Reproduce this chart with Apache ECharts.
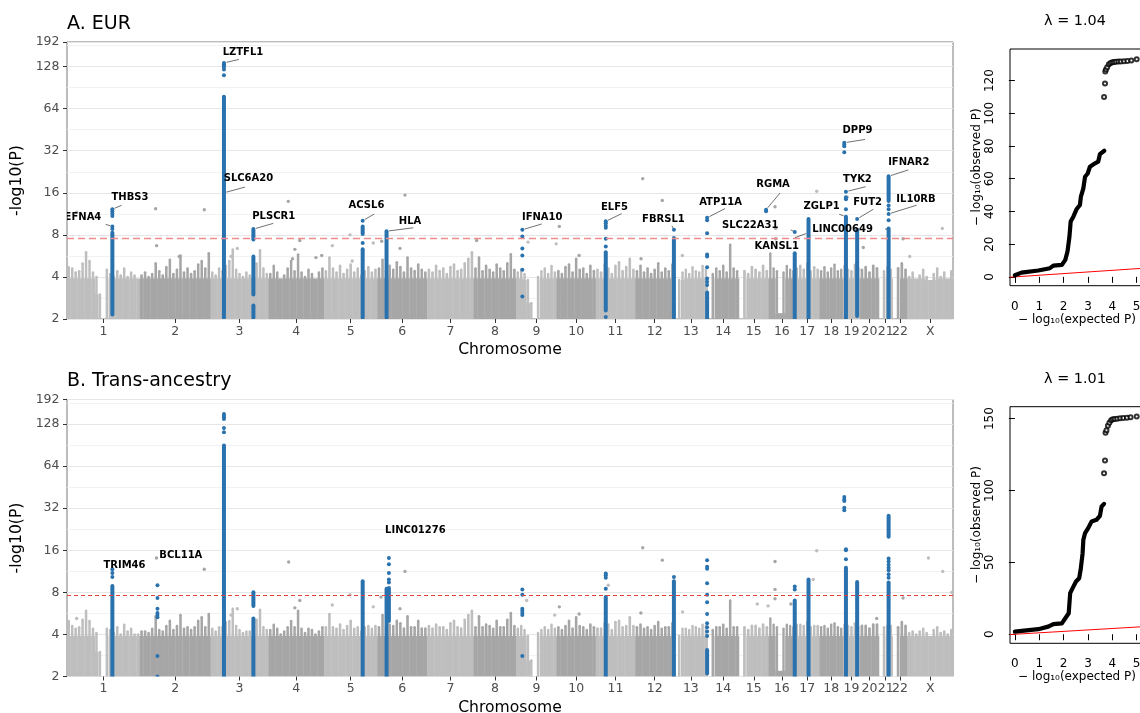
<!DOCTYPE html>
<html><head><meta charset="utf-8">
<script src="https://cdn.jsdelivr.net/npm/echarts@6/dist/echarts.min.js"></script>
<style>html,body{margin:0;padding:0;background:#fff}#c{width:1140px;height:713px}</style>
</head><body><div id="c"></div>
<script>
// ---------------- data ----------------
const chromNames = ['1','2','3','4','5','6','7','8','9','10','11','12','13','14','15','16','17','18','19','20','21','22','X'];
const chromLenMb = [248.96,242.19,198.30,190.21,181.54,170.81,159.35,145.14,138.39,133.80,135.09,133.28,114.36,107.04,101.99,90.34,83.26,80.37,58.62,64.44,46.71,50.82,156.04];
const yRange = [2, 192];
const gwThreshold = 7.6;

// background skyline (max -log10P per window, windows evenly spread along each chromosome)
const eurSkyline = [
 [4.7,4.6,4.3,4.4,5.0,6.0,5.2,4.3,4.0,3.0,2.0,4.5,4.2,4.0,4.4,4.1,4.6,4.0,4.3,4.1,3.9],
 [4.1,4.3,4.0,4.2,5.0,4.4,4.1,4.7,5.3,4.2,4.5,5.7,4.3,4.6,4.2,4.4,4.9,5.2,4.6,5.9],
 [4.3,4.1,4.6,4.4,4.8,5.2,6.3,4.5,4.2,4.0,4.3,4.1,4.4,5.0,6.2,4.6,4.2],
 [4.2,4.8,4.3,3.9,4.1,4.6,5.2,4.4,5.8,4.3,4.0,4.5,4.2,3.9,4.3,4.6],
 [4.4,5.5,4.6,4.3,4.8,4.2,4.5,4.9,4.3,4.6,4.1,4.4,4.7,4.3,4.5],
 [4.6,5.3,4.4,4.8,4.5,5.1,4.7,4.3,5.5,4.6,4.4,4.9,4.5,4.3],
 [4.5,4.3,4.8,4.4,4.6,4.2,4.7,4.9,4.4,4.5,5.0,5.4,6.0],
 [4.6,5.5,4.4,4.8,4.5,4.3,4.9,4.6,4.4,5.0,5.8,4.5],
 [4.3,4.5,4.2,3.8,2.6,2.0,4.0,4.4,4.6,4.2,4.8,4.3],
 [4.4,4.2,4.7,4.9,4.3,5.4,4.5,4.6,4.2,4.8,4.4],
 [4.5,4.3,4.9,4.6,4.2,4.8,5.1,4.4,4.7,5.4,4.5],
 [4.4,4.8,4.3,4.6,4.2,4.5,5.0,4.3,4.6,4.4,4.9],
 [2.0,3.8,4.3,4.5,4.2,4.7,4.4,4.3,4.8,4.5],
 [2.0,4.2,4.6,4.4,4.8,4.3,6.8,4.6,4.4],
 [2.0,4.4,4.2,4.7,4.5,4.3,4.8,4.4],
 [5.9,4.6,4.4,2.2,4.3,4.8,4.5,4.4],
 [4.6,4.8,4.5,5.0,4.4,4.7,4.5],
 [4.4,4.7,4.3,4.6,4.9,4.4,4.5],
 [4.8,4.5,4.4,4.9,4.6],
 [4.5,4.7,4.3,4.8,4.6],
 [2.0,4.4,4.7,4.5],
 [2.0,4.6,5.0,4.5],
 [4.0,4.3,3.9,4.1,4.5,4.0,3.8,4.2,4.6,4.0,4.3,3.9,4.4]
];
const transSkyline = [
 [5.0,4.6,4.4,4.5,5.1,5.9,5.0,4.4,4.1,3.0,2.0,4.4,4.3,4.1,4.5,4.0,4.7,4.2,4.4,4.0,4.0],
 [4.2,4.2,4.1,4.4,5.4,4.3,4.2,4.6,5.0,4.3,4.6,5.5,4.4,4.5,4.3,4.5,5.0,5.3,4.5,5.6],
 [4.4,4.2,4.5,4.5,4.9,5.0,6.1,4.6,4.3,4.1,4.2,4.2,4.5,5.1,6.0,4.5,4.3],
 [4.3,4.7,4.4,4.0,4.2,4.5,5.0,4.5,5.9,4.4,4.1,4.4,4.3,4.0,4.2,4.5],
 [4.5,5.6,4.5,4.4,4.7,4.3,4.6,5.0,4.4,4.5,4.2,4.5,4.6,4.4,4.6],
 [4.5,5.5,4.5,4.7,4.6,5.0,4.8,4.4,5.4,4.5,4.5,5.0,4.4,4.4],
 [4.6,4.4,4.7,4.5,4.5,4.3,4.8,5.0,4.5,4.4,5.1,5.5,5.9],
 [4.5,5.4,4.5,4.7,4.6,4.4,5.0,4.5,4.5,5.1,5.7,4.6],
 [4.4,4.6,4.3,3.9,2.6,2.0,4.1,4.3,4.5,4.3,4.7,4.4],
 [4.5,4.3,4.6,5.0,4.4,5.3,4.6,4.5,4.3,4.7,4.5],
 [4.4,4.4,4.8,4.7,4.3,4.9,5.0,4.5,4.6,5.3,4.6],
 [4.5,4.7,4.4,4.5,4.3,4.6,4.9,4.4,4.5,4.5,4.8],
 [2.0,3.9,4.4,4.4,4.3,4.6,4.5,4.4,4.7,4.6],
 [2.0,4.3,4.5,4.5,4.7,4.4,7.0,4.5,4.5],
 [2.0,4.5,4.3,4.6,4.6,4.4,4.7,4.5],
 [5.2,4.7,4.5,2.2,4.4,4.7,4.6,4.5],
 [4.7,4.7,4.6,4.9,4.5,4.6,4.6],
 [4.5,4.6,4.4,4.7,4.8,4.5,4.4],
 [4.7,4.6,4.5,4.8,4.5],
 [4.6,4.6,4.4,4.7,4.7],
 [2.0,4.5,4.6,4.6],
 [2.0,4.5,4.9,4.6],
 [4.1,4.2,4.0,4.2,4.4,4.1,3.9,4.3,4.5,4.1,4.2,4.0,4.3]
];

// isolated grey points [chrom, posMb, -log10P]
const eurGreyPts = [
 ['1',33,11.6],['2',54.3,12.3],['2',57.7,6.7],['2',135,5.6],['2',220.7,12.1],['3',70,5.6],['3',91.5,6.4],
 ['4',67.6,13.9],['4',82,5.4],['4',90,6.3],['4',107,7.3],['4',162,5.5],['4',182,5.7],['5',28,6.7],['5',88.5,8.0],
 ['5',96,5.2],['5',168,7.0],['6',15.4,7.2],['6',78,6.4],['6',95,15.4],['8',10,7.3],['9',40.7,7.1],['9',137,6.9],
 ['10',9.3,9.2],['10',77,5.7],['12',20,5.4],['12',25.8,20.2],['12',92.8,14.1],['13',28,5.7],['16',21.7,12.7],
 ['16',24,8.9],['16',24,7.5],['17',74,16.4],['19',15,14.9],['20',11,6.5],['22',36,7.5],['X',8,5.6],['X',119.5,8.9]
];
const transGreyPts = [
 ['1',33,5.2],['2',57,14.1],['2',220.7,11.7],['3',70,5.5],['3',91.5,6.1],['4',68.9,13.2],['4',90,6.2],['4',107,7.0],
 ['5',28,6.5],['5',88.5,7.7],['5',168,6.3],['6',13,7.4],['6',78,6.1],['6',95,11.3],['9',36,7.0],['9',132,5.5],
 ['10',9.3,6.3],['10',77,5.6],['11',43,9.0],['12',19.5,5.7],['12',25.8,16.7],['12',92.8,13.6],['13',29,5.8],
 ['15',63,6.6],['15',100,6.4],['16',21.7,13.3],['16',21.7,8.4],['16',21.7,7.2],['16',76,6.6],['17',62,9.9],
 ['17',74,15.9],['20',57,5.2],['22',36,7.3],['X',72,14.1],['X',121,11.3],['X',152,8.0]
];

// highlighted loci: dense runs [chrom, posMb, low, high] and single points [chrom, posMb, value]
const eurHitRuns = [
 ['1',155.2,2.15,8.3],['3',45.8,2.05,78],['3',146.5,7.4,8.6],['3',146.5,3.0,5.6],['3',146.5,2.05,2.5],
 ['5',131.9,2.05,6.3],['5',131.9,8.1,9.2],['6',32.0,2.05,8.5],['11',34.5,2.3,6.0],['12',132.5,2.05,7.6],
 ['13',112.8,2.0,3.1],['16',89.2,2.0,5.9],['17',46.0,2.0,10.4],['19',10.4,2.0,10.8],['19',48.7,2.1,8.7],
 ['21',33.3,14,21],['21',33.3,2.0,8.9]
];
const eurHitPts = [
 ['1',155.2,12.2],['1',155.2,11.8],['1',155.2,11.4],['1',155.2,10.9],['1',155.2,9.2],['1',155.2,8.8],
 ['3',45.8,136],['3',45.8,133],['3',45.8,130],['3',45.8,127],['3',45.8,122],['3',45.8,111],['3',146.5,8.8],
 ['5',131.9,10.1],['5',131.9,7.0],
 ['9',21.2,8.7],['9',21.2,7.8],['9',21.2,6.4],['9',21.2,5.7],['9',21.2,4.5],['9',21.2,2.9],
 ['11',34.5,10.0],['11',34.5,9.7],['11',34.5,9.3],['11',34.5,9.0],['11',34.5,7.5],['11',34.5,6.6],['11',34.5,2.07],
 ['12',132.5,8.7],
 ['13',112.8,10.6],['13',112.8,10.2],['13',112.8,8.2],['13',112.8,5.8],['13',112.8,5.6],['13',112.8,4.7],['13',112.8,3.9],['13',112.8,3.7],['13',112.8,3.5],
 ['15',93.0,12.1],['15',93.0,11.8],['16',89.2,8.4],
 ['19',4.7,36.5],['19',4.7,35.5],['19',4.7,34.5],['19',4.7,31.2],
 ['19',10.4,16.3],['19',10.4,14.9],['19',10.4,14.4],['19',10.4,12.2],['19',48.7,10.4],
 ['21',33.3,13.0],['21',33.3,12.2],['21',33.3,11.3],['21',33.3,10.2]
];
const transHitRuns = [
 ['1',155.2,2.0,8.9],['3',45.8,2.0,90],['3',146.5,6.4,8.0],['3',146.5,2.0,5.2],['5',131.9,2.0,9.6],
 ['6',32.0,2.0,8.5],['6',40.0,5.0,8.6],['11',34.5,2.0,7.4],['12',132.5,2.0,9.6],['13',112.8,2.1,3.1],
 ['16',89.2,2.0,7.0],['17',46.0,2.0,9.9],['19',10.4,2.0,12.0],['19',48.7,2.0,9.5],['21',33.3,20,28.3],['21',33.3,2.0,9.4]
];
const transHitPts = [
 ['1',155.2,11.7],['1',155.2,11.0],['1',155.2,10.3],
 ['2',60.5,9.0],['2',60.5,7.3],['2',60.5,6.1],['2',60.5,5.7],['2',60.5,5.5],['2',60.5,5.3],['2',60.5,2.8],['2',60.5,2.0],
 ['3',45.8,151],['3',45.8,147],['3',45.8,143],['3',45.8,139],['3',45.8,120],['3',45.8,112],
 ['6',40.0,14.1],['6',40.0,12.7],['6',40.0,11.0],['6',40.0,9.9],['6',40.0,9.4],
 ['9',21.2,8.4],['9',21.2,7.7],['9',21.2,6.1],['9',21.2,5.9],['9',21.2,5.7],['9',21.2,5.5],['9',21.2,2.8],
 ['11',34.5,10.9],['11',34.5,10.6],['11',34.5,10.2],['11',34.5,8.5],['12',132.5,10.3],
 ['13',112.8,13.6],['13',112.8,12.2],['13',112.8,11.8],['13',112.8,9.3],['13',112.8,7.7],['13',112.8,6.8],['13',112.8,5.6],['13',112.8,4.8],['13',112.8,4.5],['13',112.8,4.2],['13',112.8,3.9],
 ['16',89.2,8.8],['16',89.2,8.4],
 ['19',4.7,38.5],['19',4.7,37.0],['19',4.7,36.0],['19',4.7,32.2],['19',4.7,31.0],
 ['19',10.4,16.3],['19',10.4,16.0],['19',10.4,13.8],
 ['21',33.3,14.0],['21',33.3,13.3],['21',33.3,12.6],['21',33.3,12.0],['21',33.3,11.5],['21',33.3,10.8],['21',33.3,10.2]
];

// gene labels [gene, chrom, posMb, -log10P of labelled point]
const eurGeneLabels = [
 ['LZTFL1','3',45.8,136],['SLC6A20','3',45.8,16],['THBS3','1',155.2,12.2],['EFNA4','1',155.2,9.2],
 ['PLSCR1','3',146.5,8.8],['ACSL6','5',131.9,10.1],['HLA','6',32.0,8.5],['IFNA10','9',21.2,8.7],
 ['ELF5','11',34.5,10.0],['FBRSL1','12',132.5,8.7],['ATP11A','13',112.8,10.6],['RGMA','15',93.0,12.1],
 ['SLC22A31','16',89.2,8.4],['KANSL1','17',46.0,8.3],['DPP9','19',4.7,36.5],['TYK2','19',10.4,16.3],
 ['ZGLP1','19',10.4,10.8],['FUT2','19',48.7,10.4],['IFNAR2','21',33.3,21.0],['IL10RB','21',33.3,11.3],
 ['LINC00649','21',33.3,8.8]
];
const transGeneLabels = [
 ['TRIM46','1',155.2,11.7],['BCL11A','2',57,14.1],['LINC01276','6',40.0,14.1]
];

// QQ plots: dense part of the curve and sparse top points
const eurQQCurveExp = [0,0.27,0.96,1.44,1.58,1.93,2.07,2.16,2.24,2.29,2.40,2.53,2.67,2.71,2.81,2.88,2.99,3.08,3.29,3.42,3.49,3.67];
const eurQQCurveObs = [1.0,2.6,3.9,5.3,6.9,7.3,10.4,15.5,24.6,33.8,36.8,41.3,43.9,49.0,54.1,61.2,63.2,67.3,69.4,70.4,75.0,77.1];
const eurQQTopExp = [3.66,3.70,3.71,3.74,3.79,3.86,3.93,4.00,4.07,4.15,4.25,4.35,4.48,4.62,4.78,5.00];
const eurQQTopObs = [110,118.2,125.5,126.8,128.2,130.0,130.8,131.2,131.4,131.5,131.6,131.7,131.8,131.9,132.2,133.0];
const transQQCurveExp = [0,0.96,1.37,1.58,1.93,2.07,2.21,2.27,2.37,2.51,2.64,2.70,2.78,2.81,2.88,3.01,3.15,3.35,3.49,3.56,3.66];
const transQQCurveObs = [1.8,3.5,5.3,7.1,7.6,11.1,14.6,28.6,32.1,36.7,39.0,44.9,56.4,65.7,70.3,73.8,78.5,79.6,82.4,88.9,90.7];
const transQQTopExp = [3.66,3.70,3.72,3.76,3.82,3.88,3.95,4.02,4.10,4.20,4.32,4.45,4.60,4.75,5.00];
const transQQTopObs = [112,120.8,140.2,142,145,147.2,148.8,149.5,149.8,150,150.2,150.4,150.6,150.9,151.4];
const qqRefRange = [-0.2, 5.3];
const qqXTicks = [0,1,2,3,4,5];
const eurQQYTicks = [0,20,40,60,80,100,120];
const transQQYTicks = [0,50,100,150];
const eurLambda = '1.04', transLambda = '1.01';

// ---------------- layout / style (not data) ----------------
const eurLabelLayout = {
 LZTFL1:[19,-11,15,-3.5], SLC6A20:[24.5,-14,21,-5.7], THBS3:[17.6,-12.3,9.3,-4], EFNA4:[-29.4,-9,-6.7,-2],
 PLSCR1:[20.3,-12.7,19.9,-5.7], ACSL6:[3.8,-15.7,11.6,-6.7], HLA:[23.5,-10,26.8,-3.4], IFNA10:[19.9,-12.6,19.4,-5.8],
 ELF5:[8.7,-14,15.9,-7.7], FBRSL1:[-10.5,-10.7,-2,-4], ATP11A:[13.4,-15.8,17.9,-9.2], RGMA:[7,-25,14,-16.7],
 SLC22A31:[-44.5,-7,-4,-2], KANSL1:[-31.8,13.3,-13.5,5], DPP9:[13.2,-12.6,20.7,-3.3], TYK2:[11.5,-12.7,19.7,-5],
 ZGLP1:[-24.3,-10,-6.7,-2.4], FUT2:[10.4,-16.4,16.2,-9.7], IFNAR2:[20.2,-13.4,19.7,-6.4], IL10RB:[27.4,-15,28,-8.7],
 LINC00649:[-46,0.4,-3.6,0]
};
const transLabelLayout = { TRIM46:[12.1,-4.3,null,null], BCL11A:[24.4,-2.7,null,null], LINC01276:[26.5,-27.7,null,null] };

const GREY_LIGHT = '#bebebe', GREY_DARK = '#a6a6a6', HIT_BLUE = '#2a72ae';
const FONT = 'DejaVu Sans';
const L2 = Math.log2;

const chromStart = [];
let acc = 0;
chromLenMb.forEach(l => { chromStart.push(acc); acc += l; });
const genomeLen = acc;
const chromCenter = chromStart.map((s, i) => s + chromLenMb[i] / 2);
const cumPos = (chr, pos) => chromStart[chromNames.indexOf(chr)] + pos;
const shadeOf = chr => chromNames.indexOf(chr) % 2;
const LOG_CAP = L2(3.9);

function skyRender(params, api) {
  const x0 = api.value(0), x1 = api.value(1), yv = api.value(2), shade = api.value(3), fl = api.value(4);
  const base = api.coord([x0, 1]);
  const right = api.coord([x1, 1])[0];
  const w = right - base[0];
  const topY = api.coord([x0, yv])[1];
  const floorY = api.coord([x0, fl])[1];
  const fill = shade ? GREY_DARK : GREY_LIGHT;
  const ch = [];
  if (fl > 1.001) ch.push({type:'rect', shape:{x:base[0], y:floorY, width:w+0.4, height:base[1]-floorY}, style:{fill}});
  if (yv > fl + 0.001) {
    const sw = Math.max(1.8, w * 0.72), cx = base[0] + w / 2;
    ch.push({type:'rect', shape:{x:cx-sw/2, y:topY, width:sw, height:floorY-topY+0.5}, style:{fill}});
    ch.push({type:'circle', shape:{cx, cy:topY, r:sw/2}, style:{fill}});
  }
  return {type:'group', children:ch};
}
function greyRender(params, api) {
  const p = api.coord([api.value(0), api.value(1)]);
  return {type:'circle', shape:{cx:p[0], cy:p[1], r:1.7}, style:{fill: api.value(2) ? GREY_DARK : GREY_LIGHT}};
}
function runRender(params, api) {
  const a = api.coord([api.value(0), api.value(1)]);
  const b = api.coord([api.value(0), api.value(2)]);
  return {type:'rect', shape:{x:a[0]-2, y:b[1]-2, width:4, height:a[1]-b[1]+4, r:2}, style:{fill:HIT_BLUE}};
}
function hitPtRender(params, api) {
  const p = api.coord([api.value(0), api.value(1)]);
  return {type:'circle', shape:{cx:p[0], cy:p[1], r:2}, style:{fill:HIT_BLUE}};
}
function makeLabelRender(lbls, layout) {
  return function (params, api) {
    const i = api.value(2);
    const p = api.coord([api.value(0), api.value(1)]);
    const L = layout[lbls[i][0]];
    const ch = [{type:'text', x:p[0]+L[0], y:p[1]+L[1],
      style:{text:lbls[i][0], fontSize:10, fontWeight:'bold', fontFamily:FONT, fill:'#000',
             align:'center', verticalAlign:'middle', textAlign:'center', textVerticalAlign:'middle'}}];
    if (L[2] != null) {
      const dx = L[2], dy = L[3], d = Math.hypot(dx, dy) || 1;
      const s = Math.min(2.5, d * 0.4);
      ch.push({type:'line', shape:{x1:p[0]+dx/d*s, y1:p[1]+dy/d*s, x2:p[0]+dx, y2:p[1]+dy},
        style:{stroke:'#333', lineWidth:0.7}});
    }
    return {type:'group', children:ch};
  };
}

function manhattanSeries(g, sky, grey, runs, pts, lbls, layout, thr) {
  const skyData = [];
  sky.forEach((arr, c) => {
    const n = arr.length;
    arr.forEach((v, i) => {
      const prev = i > 0 ? arr[i-1] : v, next = i < n - 1 ? arr[i+1] : v;
      const fl = Math.min(L2(v), L2(Math.min(prev, next)), LOG_CAP);
      skyData.push([chromStart[c] + i * chromLenMb[c] / n, chromStart[c] + (i + 1) * chromLenMb[c] / n, L2(v), c % 2, fl]);
    });
  });
  const common = {xAxisIndex:g, yAxisIndex:g, silent:true, clip:true, animation:false};
  return [
    Object.assign({type:'custom', data:skyData, encode:{x:[0,1], y:2}, renderItem:skyRender,
      markLine:{silent:true, symbol:['none','none'], label:{show:false}, animation:false,
        lineStyle:{color:thr.color, width:thr.width, type:thr.dash}, data:[{yAxis:L2(gwThreshold)}]}}, common),
    Object.assign({type:'custom', data:grey.map(d => [cumPos(d[0], d[1]), L2(d[2]), shadeOf(d[0])]), renderItem:greyRender}, common),
    Object.assign({type:'custom', data:runs.map(d => [cumPos(d[0], d[1]), L2(d[2]), L2(d[3])]), encode:{x:0, y:[1,2]}, renderItem:runRender}, common),
    Object.assign({type:'custom', data:pts.map(d => [cumPos(d[0], d[1]), L2(d[2])]), renderItem:hitPtRender}, common),
    Object.assign({type:'custom', data:lbls.map((d, i) => [cumPos(d[1], d[2]), L2(d[3]), i]), renderItem:makeLabelRender(lbls, layout), z:10}, common)
  ];
}
function qqSeries(g, cx, cy, tx, ty) {
  const common = {xAxisIndex:g, yAxisIndex:g, silent:true, animation:false};
  return [
    Object.assign({type:'line', data:[[qqRefRange[0], qqRefRange[0]], [qqRefRange[1], qqRefRange[1]]], symbol:'none',
      lineStyle:{color:'#ff0000', width:1}}, common),
    Object.assign({type:'line', data:cx.map((x, i) => [x, cy[i]]), symbol:'none',
      lineStyle:{color:'#000', width:4.2, cap:'round', join:'round'}}, common),
    Object.assign({type:'scatter', data:tx.map((x, i) => [x, ty[i]]), symbol:'emptyCircle', symbolSize:4,
      itemStyle:{color:'#000', borderColor:'#000', borderWidth:0.7}}, common)
  ];
}

function manX(g) {
  return {gridIndex:g, type:'value', min:0, max:genomeLen, axisLine:{show:false}, splitLine:{show:false},
    axisTick:{show:true, length:4, lineStyle:{color:'#333', width:1}, customValues:chromCenter},
    axisLabel:{customValues:chromCenter, margin:6, color:'#4d4d4d', fontSize:12.5, fontFamily:FONT,
      formatter: v => { for (let i = 0; i < chromCenter.length; i++) if (Math.abs(chromCenter[i] - v) < 0.01) return chromNames[i]; return ''; }},
    name:'Chromosome', nameLocation:'middle', nameGap:23, nameTextStyle:{color:'#000', fontSize:15.6, fontFamily:FONT}};
}
function manY(g) {
  return {gridIndex:g, type:'value', min:L2(yRange[0]), max:L2(yRange[1]), interval:1,
    axisLine:{show:false}, axisTick:{show:true, length:4, lineStyle:{color:'#333', width:1}},
    axisLabel:{margin:7.5, color:'#4d4d4d', fontSize:12.5, fontFamily:FONT, showMaxLabel:true, showMinLabel:true,
      formatter: v => String(Math.round(Math.pow(2, v)))},
    splitLine:{show:true, lineStyle:{color:'#e6e6e6', width:1.1}},
    minorTick:{show:false, splitNumber:2},
    minorSplitLine:{show:true, lineStyle:{color:'#efefef', width:0.8}},
    name:'-log10(P)', nameLocation:'middle', nameGap:36, nameRotate:90,
    nameTextStyle:{color:'#000', fontSize:15.6, fontFamily:FONT}};
}
function qqX(g) {
  return {gridIndex:g, type:'value', min:qqRefRange[0], max:qqRefRange[1], axisLine:{show:false}, splitLine:{show:false},
    axisTick:{show:true, length:6, lineStyle:{color:'#000', width:1}, customValues:qqXTicks},
    axisLabel:{customValues:qqXTicks, margin:15, color:'#000', fontSize:12, fontFamily:FONT},
    name:'\u2212 log\u2081\u2080(expected P)', nameLocation:'middle', nameGap:28,
    nameTextStyle:{color:'#000', fontSize:12, fontFamily:FONT}};
}
function qqY(g, min, max, ticks) {
  return {gridIndex:g, type:'value', min, max, axisLine:{show:false}, splitLine:{show:false},
    axisTick:{show:true, length:6, lineStyle:{color:'#000', width:1}, customValues:ticks},
    axisLabel:{customValues:ticks, rotate:90, margin:14, color:'#000', fontSize:12, fontFamily:FONT},
    name:'\u2212 log\u2081\u2080(observed P)', nameLocation:'middle', nameGap:27, nameRotate:90,
    nameTextStyle:{color:'#000', fontSize:12, fontFamily:FONT}};
}
const gridBase = {containLabel:false, outerBoundsMode:'none', show:true, backgroundColor:'#fff'};

function titleText(x, y, text, size) {
  return {type:'text', x, y, silent:true, style:{text, fontSize:size, fontFamily:FONT, fill:'#000',
    align:'left', verticalAlign:'middle', textAlign:'left', textVerticalAlign:'middle'}};
}
function centerText(x, y, text, size) {
  return {type:'text', x, y, silent:true, style:{text, fontSize:size, fontFamily:FONT, fill:'#000',
    align:'center', verticalAlign:'middle', textAlign:'center', textVerticalAlign:'middle'}};
}

const option = {
  animation:false,
  backgroundColor:'#fff',
  textStyle:{fontFamily:FONT},
  grid:[
    Object.assign({left:67, top:42, width:886, height:277, borderColor:'#7a7a7a', borderWidth:1}, gridBase),
    Object.assign({left:67, top:399.5, width:886, height:277, borderColor:'#7a7a7a', borderWidth:1}, gridBase),
    Object.assign({left:1010, top:49, width:134, height:236.7, borderColor:'#000', borderWidth:1}, gridBase),
    Object.assign({left:1010, top:406.7, width:134, height:236.6, borderColor:'#000', borderWidth:1}, gridBase)
  ],
  xAxis:[manX(0), manX(1), qqX(2), qqX(3)],
  yAxis:[manY(0), manY(1), qqY(2, -5.4, 139.3, eurQQYTicks), qqY(3, -6.3, 158.3, transQQYTicks)],
  graphic:{elements:[
    titleText(67, 24, 'A. EUR', 19),
    titleText(67, 381.5, 'B. Trans-ancestry', 19),
    centerText(1075, 21, '\u03bb = ' + eurLambda, 14.4),
    centerText(1075, 379, '\u03bb = ' + transLambda, 14.4)
  ]},
  series:[].concat(
    manhattanSeries(0, eurSkyline, eurGreyPts, eurHitRuns, eurHitPts, eurGeneLabels, eurLabelLayout,
      {color:'#f08c8c', width:1.4, dash:[7,4]}),
    manhattanSeries(1, transSkyline, transGreyPts, transHitRuns, transHitPts, transGeneLabels, transLabelLayout,
      {color:'#e8413c', width:1, dash:[4,3]}),
    qqSeries(2, eurQQCurveExp, eurQQCurveObs, eurQQTopExp, eurQQTopObs),
    qqSeries(3, transQQCurveExp, transQQCurveObs, transQQTopExp, transQQTopObs)
  )
};
const chart = echarts.init(document.getElementById('c'), null, {renderer:'canvas'});
chart.setOption(option);
</script></body></html>
